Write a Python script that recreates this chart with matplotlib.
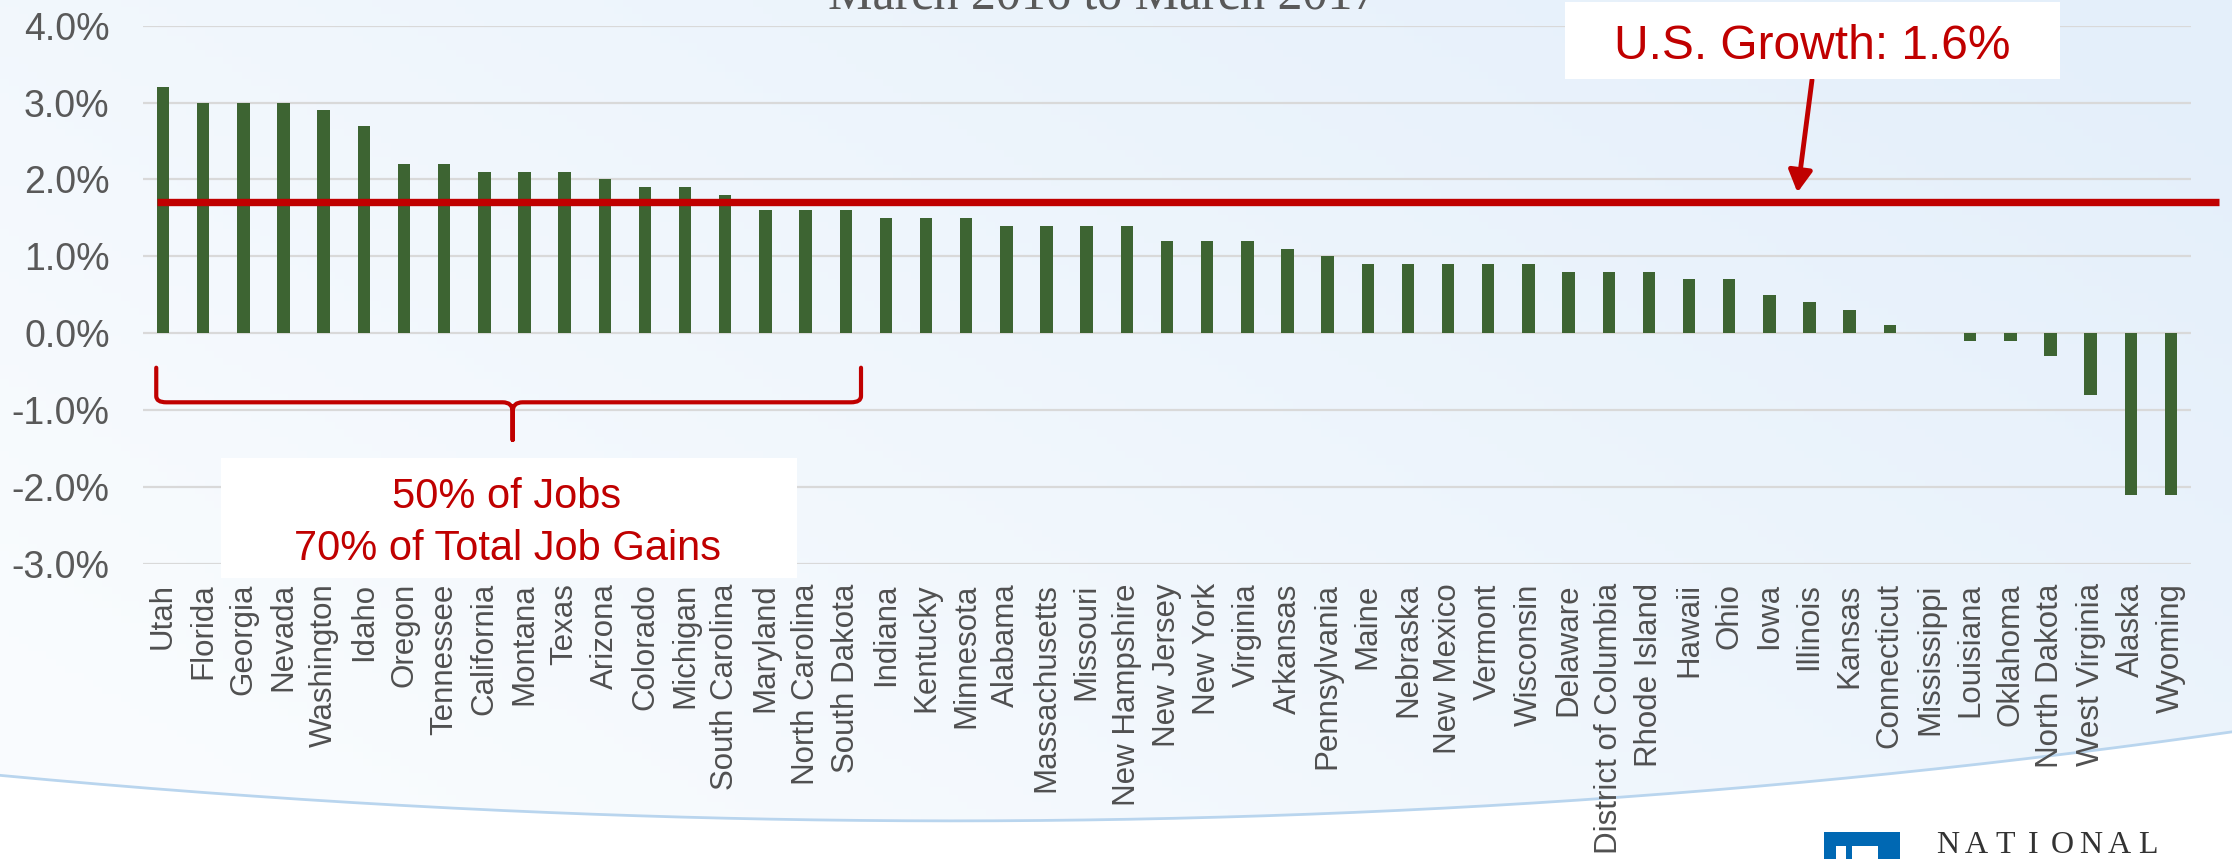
import numpy as np
import matplotlib
matplotlib.use("Agg")
import matplotlib.pyplot as plt
from matplotlib.path import Path
from matplotlib.patches import PathPatch, Rectangle
from matplotlib.ticker import FuncFormatter

plt.rcParams['font.family'] = ['Liberation Sans', 'DejaVu Sans']

# ---------------- data ----------------
states = ["Utah", "Florida", "Georgia", "Nevada", "Washington", "Idaho", "Oregon",
          "Tennessee", "California", "Montana", "Texas", "Arizona", "Colorado",
          "Michigan", "South Carolina", "Maryland", "North Carolina", "South Dakota",
          "Indiana", "Kentucky", "Minnesota", "Alabama", "Massachusetts", "Missouri",
          "New Hampshire", "New Jersey", "New York", "Virginia", "Arkansas",
          "Pennsylvania", "Maine", "Nebraska", "New Mexico", "Vermont", "Wisconsin",
          "Delaware", "District of Columbia", "Rhode Island", "Hawaii", "Ohio", "Iowa",
          "Illinois", "Kansas", "Connecticut", "Mississippi", "Louisiana", "Oklahoma",
          "North Dakota", "West Virginia", "Alaska", "Wyoming"]
growth = [3.2, 3.0, 3.0, 3.0, 2.9, 2.7, 2.2,
          2.2, 2.1, 2.1, 2.1, 2.0, 1.9,
          1.9, 1.8, 1.6, 1.6, 1.6,
          1.5, 1.5, 1.5, 1.4, 1.4, 1.4,
          1.4, 1.2, 1.2, 1.2, 1.1,
          1.0, 0.9, 0.9, 0.9, 0.9, 0.9,
          0.8, 0.8, 0.8, 0.7, 0.7, 0.5,
          0.4, 0.3, 0.1, 0.0, -0.1, -0.1,
          -0.3, -0.8, -2.1, -2.1]
yticks = [-3, -2, -1, 0, 1, 2, 3, 4]
us_line_value = 1.7
us_label = "U.S. Growth: 1.6%"
title = "March 2016 to March 2017"
note_lines = ["50% of Jobs", "70% of Total Job Gains"]
top_group_last = 17  # index of South Dakota

# ---------------- figure ----------------
W, H = 2232, 859
fig = plt.figure(figsize=(W / 100, H / 100), dpi=100)

# background decoration
bg = fig.add_axes([0, 0, 1, 1], zorder=-10)
ny, nx = 120, 240
xx, yy = np.meshgrid(np.linspace(0, 1, nx), np.linspace(0, 1, ny))
t = np.clip(0.7 * xx + 0.45 * (1 - yy) - 0.1, 0, 1)
c0 = np.array([0.978, 0.988, 0.997])
c1 = np.array([0.895, 0.938, 0.982])
img = c0 + (c1 - c0) * t[..., None]
bg.imshow(img, extent=[0, W, H, 0], aspect='auto', origin='upper')
cx = np.array([0, 200, 500, 1000, 1400, 1700, 2232])
cy = np.array([775, 793, 810, 820, 812, 790, 732])
coef = np.polyfit(cx, cy, 3)
xs = np.linspace(0, W, 400)
ys = np.polyval(coef, xs)
bg.fill_between(xs, ys, H, color='white', zorder=2)
bg.plot(xs, ys, color='#B9D5EE', lw=2, zorder=3)
bg.add_patch(Rectangle((1824, 832), 76, 30, facecolor='#0068B3', edgecolor='none', zorder=4))
bg.add_patch(Rectangle((1836, 846), 10, 16, facecolor='white', edgecolor='none', zorder=5))
bg.add_patch(Rectangle((1852, 846), 26, 16, facecolor='white', edgecolor='none', zorder=5))
bg.set_xlim(0, W)
bg.set_ylim(H, 0)
bg.axis('off')
for i, ch in enumerate("NATIONAL"):
    fig.text((1948 + i * 28.5) / W, 1 - 853 / H, ch, ha='center', va='baseline',
             fontsize=23, family='Liberation Serif', color='#333333')

# main axes
L, R, T, B = 143, 2191, 25.7, 563.7
ax = fig.add_axes([L / W, 1 - B / H, (R - L) / W, (B - T) / H])
ax.set_facecolor('none')
x = np.arange(len(states))
ax.bar(x, growth, width=0.31, color='#3D6432', zorder=3)
ax.set_xlim(-0.5, len(states) - 0.5)
ax.set_ylim(min(yticks), max(yticks))
ax.set_yticks(yticks)
ax.yaxis.set_major_formatter(FuncFormatter(lambda v, p: f"{v:.1f}%"))
ax.grid(axis='y', color='#D9D9D9', lw=1.6, zorder=0)
ax.set_axisbelow(True)
for s in ax.spines.values():
    s.set_visible(False)
ax.tick_params(axis='y', length=0, pad=24, labelsize=27, labelcolor='#595959')
ax.set_xticks(x)
ax.set_xticklabels(states, rotation=90, va='top', ha='center')
ax.tick_params(axis='x', length=0, pad=14, labelsize=22.5, labelcolor='#505050')

# U.S. growth line
ax.plot([-0.15, len(states) + 0.2], [us_line_value, us_line_value], color='#C00000',
        lw=5.3, clip_on=False, zorder=4, solid_capstyle='butt')

# U.S. growth box + arrow
fig.add_artist(Rectangle((1565 / W, 1 - 79 / H), (2060 - 1565) / W, 77 / H,
                         transform=fig.transFigure, facecolor='white', edgecolor='none', zorder=5))
fig.text(1812 / W, 1 - 59 / H, us_label, ha='center', va='baseline', fontsize=34.5,
         color='#C00000', zorder=6)
ax.annotate('', xy=(40.7, 1.83), xycoords='data', xytext=(1812, H - 80),
            textcoords='figure pixels',
            arrowprops=dict(arrowstyle='-|>,head_length=0.65,head_width=0.36',
                            mutation_scale=20, color='#C00000', lw=3.5,
                            shrinkA=0, shrinkB=0), zorder=6, annotation_clip=False)

# bracket under top group
x0, x1 = -0.17, top_group_last + 0.38
xc = (x0 + x1) / 2 + 0.1
yt, yh, ytip = -0.45, -0.9, -1.39
dx, dy = 0.25, 0.08
verts = [(x0, yt), (x0, yh + dy), (x0, yh), (x0 + dx, yh),
         (xc - dx, yh), (xc, yh), (xc, yh - dy * 1.5), (xc, ytip),
         (xc, ytip), (xc, yh - dy * 1.5), (xc, yh), (xc + dx, yh),
         (x1 - dx, yh), (x1, yh), (x1, yh + dy), (x1, yt)]
codes = [Path.MOVETO, Path.LINETO, Path.CURVE3, Path.CURVE3,
         Path.LINETO, Path.CURVE3, Path.CURVE3, Path.LINETO,
         Path.MOVETO, Path.LINETO, Path.CURVE3, Path.CURVE3,
         Path.LINETO, Path.CURVE3, Path.CURVE3, Path.LINETO]
ax.add_patch(PathPatch(Path(verts, codes), facecolor='none', edgecolor='#C00000',
                       lw=3, clip_on=False, zorder=5, capstyle='round', joinstyle='round'))

# note box
fig.add_artist(Rectangle((221 / W, 1 - 578 / H), (797 - 221) / W, (578 - 458) / H,
                         transform=fig.transFigure, facecolor='white', edgecolor='none', zorder=5))
fig.text(507 / W, 1 - 508 / H, note_lines[0], ha='center', va='baseline', fontsize=30,
         color='#C00000', zorder=6)
fig.text(507 / W, 1 - 560 / H, note_lines[1], ha='center', va='baseline', fontsize=30,
         color='#C00000', zorder=6)

# title (partially cut off at the top)
fig.text(1103 / W, 1 - 9 / H, title, ha='center', va='baseline', fontsize=36,
         family='Liberation Serif', color='#595959')

fig.savefig("out.png", dpi=100)
